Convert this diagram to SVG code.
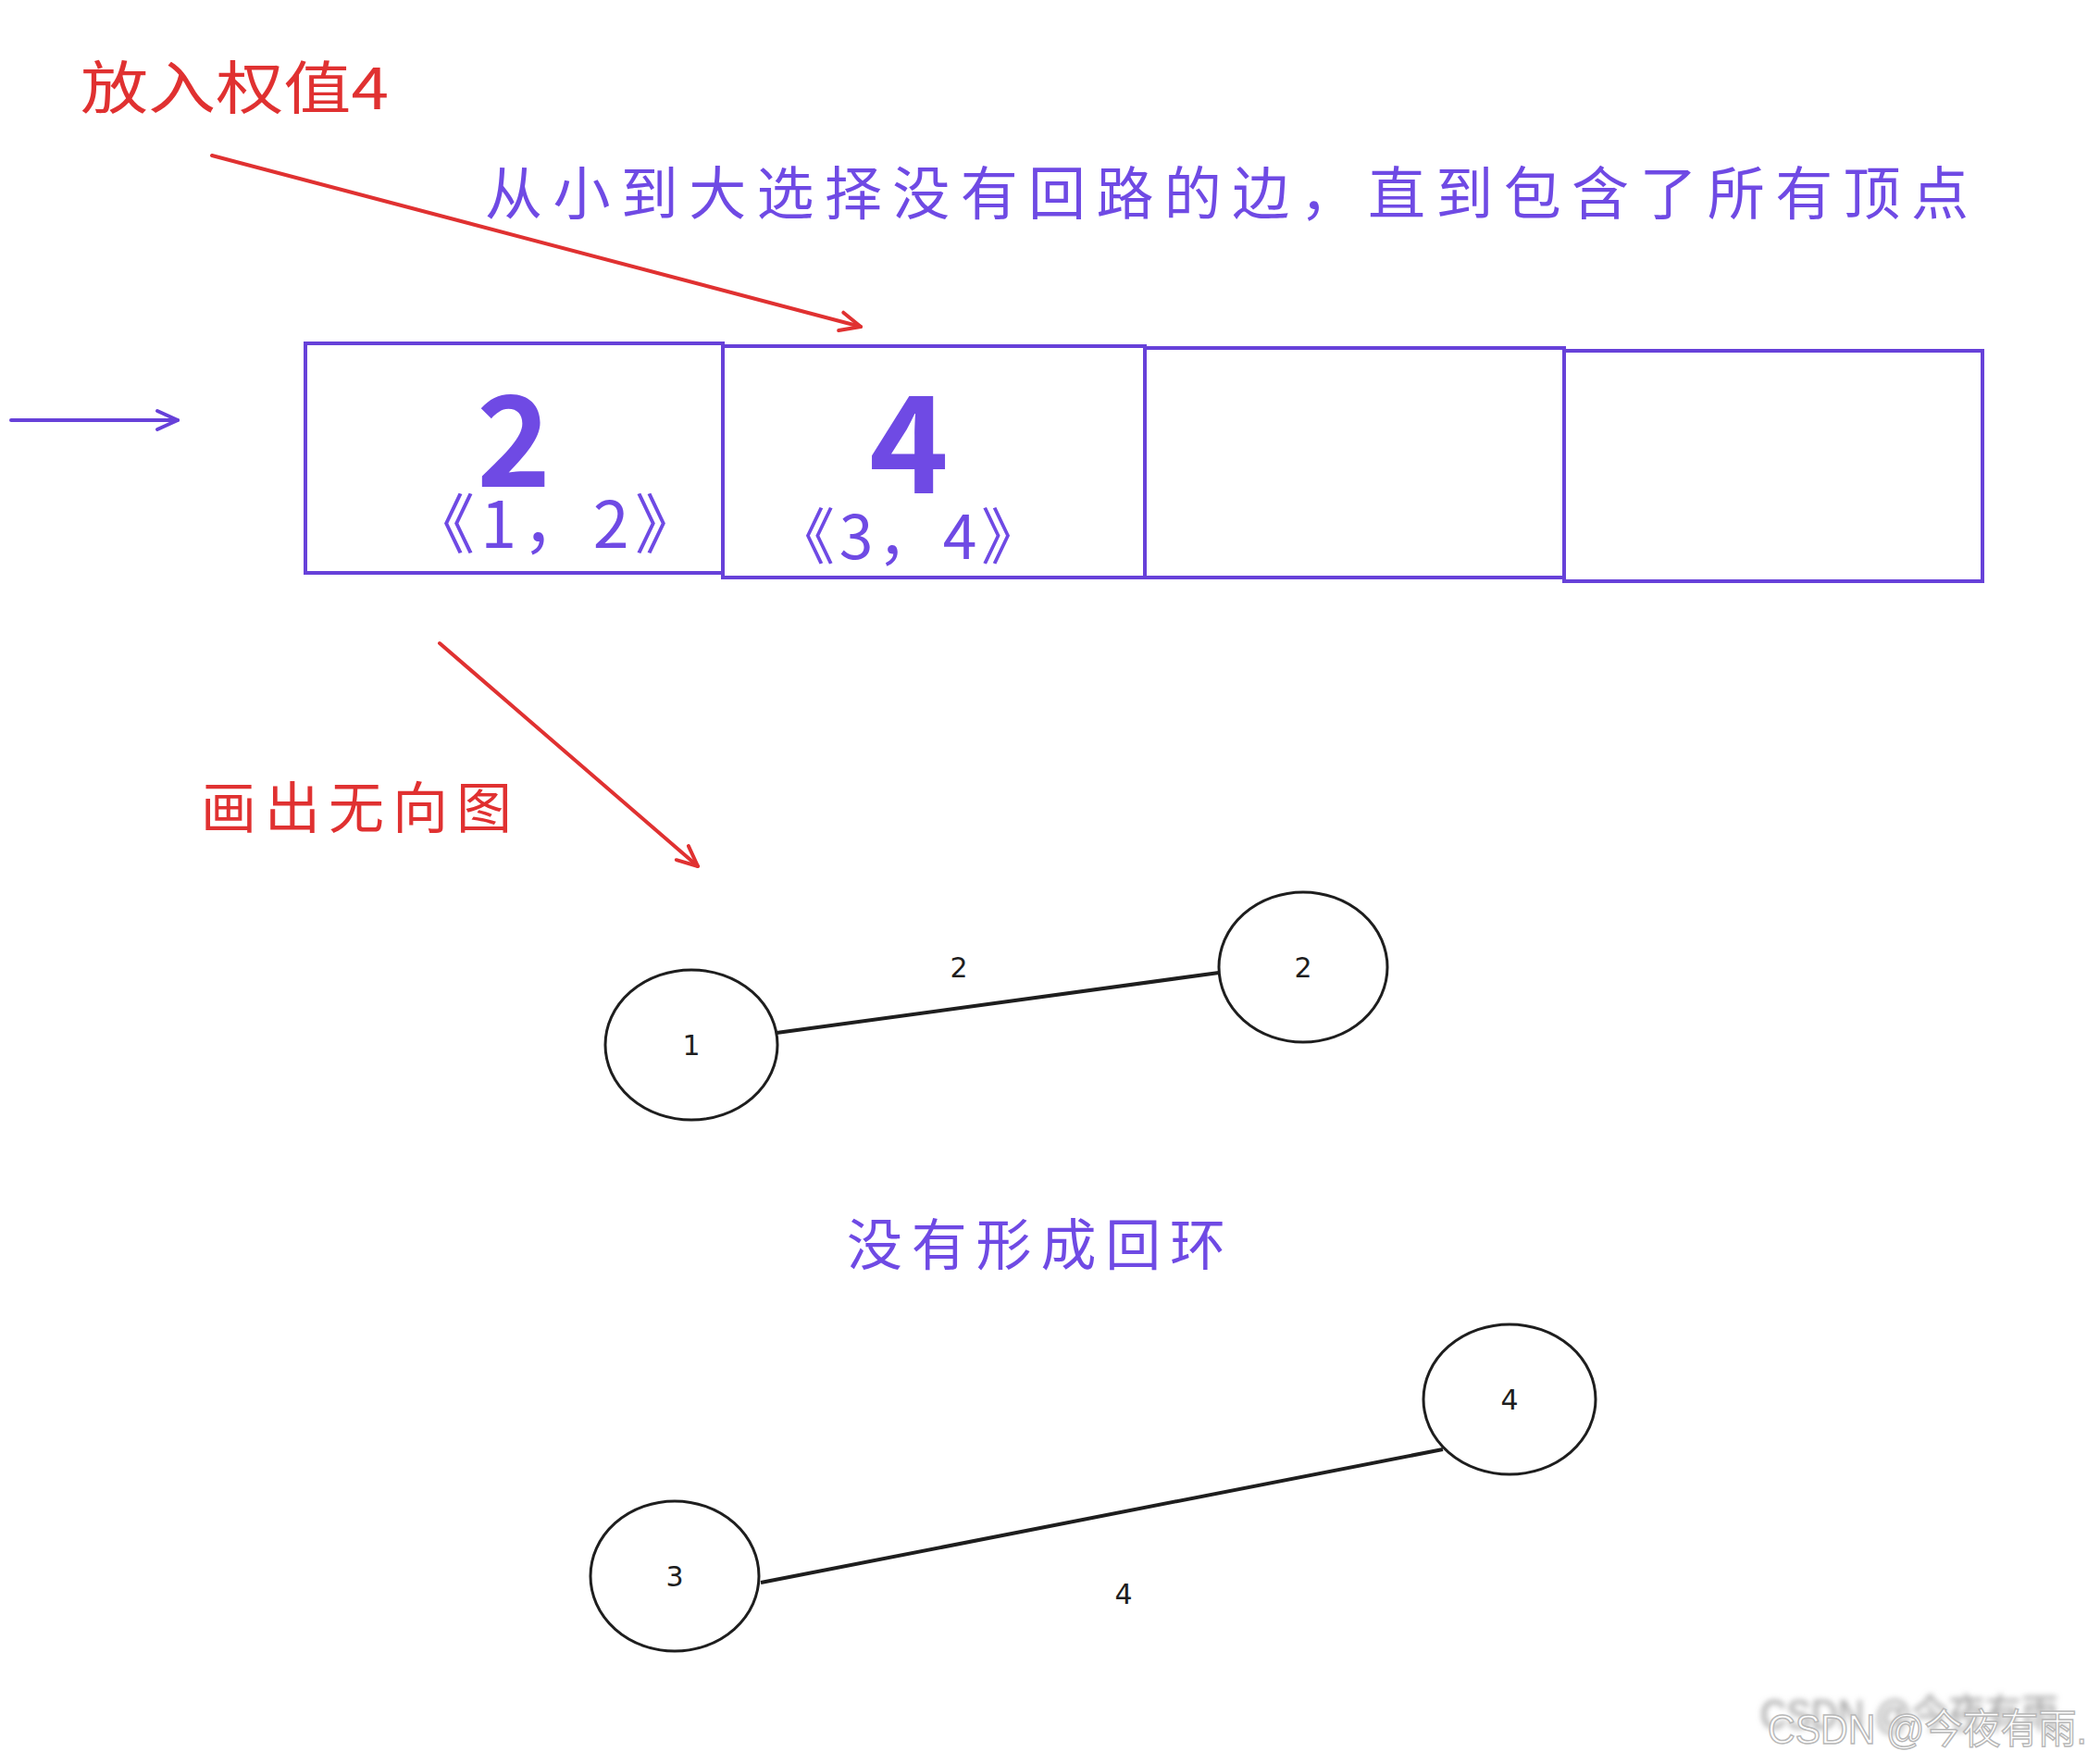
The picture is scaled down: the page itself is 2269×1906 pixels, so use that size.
<svg xmlns="http://www.w3.org/2000/svg" width="2269" height="1906" viewBox="0 0 2269 1906">
  <style>
    .red { fill: #e03131; font-family: "Noto Sans CJK SC", "Liberation Sans", sans-serif; }
    .vio { fill: #6f4ae4; font-family: "Noto Sans CJK SC", "Liberation Sans", sans-serif; }
    .box { fill: #ffffff; stroke: #6741d9; stroke-width: 4; }
    .node { fill: #ffffff; stroke: #1e1e1e; stroke-width: 3; }
    .edge { stroke: #1e1e1e; stroke-width: 4; fill: none; }
    .nlabel { fill: #1e1e1e; font-family: "DejaVu Sans", "Liberation Sans", sans-serif; font-size: 30px; text-anchor: middle; }
    .ra { stroke: #e03131; stroke-width: 4; fill: none; stroke-linecap: round; }
    .va { stroke: #6741d9; stroke-width: 4; fill: none; stroke-linecap: round; }
  </style>
  <defs>
    <marker id="arrRed" markerUnits="userSpaceOnUse" markerWidth="40" markerHeight="40" refX="30" refY="20" orient="auto" viewBox="0 0 40 40">
      <path d="M8,10 L30,20 L8,30" fill="none" stroke="#e03131" stroke-width="4" stroke-linecap="round" stroke-linejoin="round"/>
    </marker>
    <marker id="arrVio" markerUnits="userSpaceOnUse" markerWidth="40" markerHeight="40" refX="30" refY="20" orient="auto" viewBox="0 0 40 40">
      <path d="M8,10 L30,20 L8,30" fill="none" stroke="#6741d9" stroke-width="4" stroke-linecap="round" stroke-linejoin="round"/>
    </marker>
    <filter id="blur" x="-10%" y="-50%" width="120%" height="200%">
      <feGaussianBlur stdDeviation="3"/>
    </filter>
  </defs>
  <rect width="2269" height="1906" fill="#ffffff"/>

  <g id="labels">
    <text class="red" x="87" y="118" font-size="62" textLength="333" lengthAdjust="spacingAndGlyphs">放入权值4</text>
    <text class="vio" x="524" y="232" font-size="62" textLength="1603" lengthAdjust="spacing">从小到大选择没有回路的边，直到包含了所有顶点</text>
    <text class="red" x="217" y="895" font-size="60" textLength="336" lengthAdjust="spacing">画出无向图</text>
    <text class="vio" x="915" y="1367" font-size="60" textLength="409" lengthAdjust="spacing">没有形成回环</text>
  </g>

  <g id="array">
    <g id="cell1">
      <rect class="box" x="330" y="371" width="451" height="248"/>
      <text class="vio" x="555" y="526" font-size="136" font-weight="bold" text-anchor="middle" font-family="Liberation Sans, sans-serif">2</text>
      <text class="vio" x="443" y="592" font-size="70" textLength="313" lengthAdjust="spacing">《1，2》</text>
    </g>
    <g id="cell2">
      <rect class="box" x="781" y="374" width="456" height="250"/>
      <text class="vio" x="982" y="533" font-size="146" font-weight="bold" text-anchor="middle" font-family="Liberation Sans, sans-serif">4</text>
      <text class="vio" x="836" y="604" font-size="66" textLength="290" lengthAdjust="spacing">《3，4》</text>
    </g>
    <g id="cell3">
      <rect class="box" x="1237" y="376" width="453" height="248"/>
    </g>
    <g id="cell4">
      <rect class="box" x="1690" y="379" width="452" height="249"/>
    </g>
  </g>

  <g id="graph-nodes">
    <g id="node1">
      <ellipse class="node" cx="747" cy="1129" rx="93" ry="81"/>
      <text class="nlabel" x="747" y="1140">1</text>
    </g>
    <g id="node2">
      <ellipse class="node" cx="1408" cy="1045" rx="91" ry="81"/>
      <text class="nlabel" x="1408" y="1056">2</text>
    </g>
    <g id="node3">
      <ellipse class="node" cx="729" cy="1703" rx="91" ry="81"/>
      <text class="nlabel" x="729" y="1714">3</text>
    </g>
    <g id="node4">
      <ellipse class="node" cx="1631" cy="1512" rx="93" ry="81"/>
      <text class="nlabel" x="1631" y="1523">4</text>
    </g>
  </g>

  <g id="connectors">
    <line class="ra" x1="229" y1="168" x2="930" y2="353" marker-end="url(#arrRed)"/>
    <line class="va" x1="12" y1="454" x2="192" y2="454" marker-end="url(#arrVio)"/>
    <line class="ra" x1="475" y1="695" x2="754" y2="936" marker-end="url(#arrRed)"/>
    <line class="edge" x1="839" y1="1116" x2="1317" y2="1051"/>
    <text class="nlabel" x="1036" y="1056">2</text>
    <line class="edge" x1="822" y1="1710" x2="1559" y2="1566"/>
    <text class="nlabel" x="1214" y="1733">4</text>
  </g>

  <g id="watermark" font-family="Liberation Sans, Noto Sans CJK SC, sans-serif" font-size="44">
    <text x="1902" y="1868" fill="#9a9a9a" filter="url(#blur)" textLength="333" lengthAdjust="spacingAndGlyphs">CSDN @今夜有雨.</text>
    <text x="1910" y="1884" fill="#ffffff" stroke="#b8b8b8" stroke-width="1.5" textLength="345" lengthAdjust="spacingAndGlyphs">CSDN @今夜有雨.</text>
  </g>
</svg>
